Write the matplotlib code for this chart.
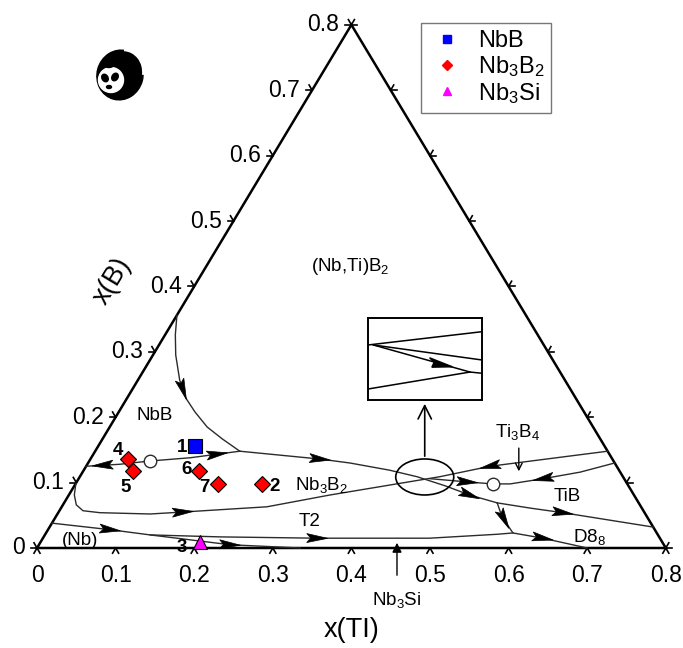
import numpy as np
import matplotlib
matplotlib.use('Agg')
import matplotlib.pyplot as plt
from matplotlib.patches import Ellipse, Polygon, Circle, Arc
from matplotlib.lines import Line2D

plt.rcParams['font.family'] = ['Liberation Sans', 'DejaVu Sans']
plt.rcParams['mathtext.default'] = 'regular'

# ---- data (compositions: x(Ti), x(B)) ----
tick_values = [0, 0.1, 0.2, 0.3, 0.4, 0.5, 0.6, 0.7, 0.8]

# monovariant lines
curve_A_ti = [0.000, 0.013, 0.029, 0.053, 0.075, 0.097, 0.124, 0.152, 0.184]
curve_A_b = [0.356, 0.326, 0.295, 0.257, 0.229, 0.208, 0.185, 0.167, 0.148]
curve_B_ti = [0.000, 0.041, 0.077, 0.126, 0.184]
curve_B_b = [0.125, 0.128, 0.133, 0.138, 0.148]
curve_C_ti = [0.184, 0.238, 0.292, 0.333, 0.389, 0.429, 0.472, 0.510, 0.551]
curve_C_b = [0.148, 0.142, 0.136, 0.130, 0.119, 0.109, 0.095, 0.081, 0.069]
curve_D_ti = [0.551, 0.597, 0.642, 0.768]
curve_D_b = [0.069, 0.061, 0.054, 0.032]
curve_E_ti = [0.551, 0.562, 0.576, 0.594, 0.636, 0.700]
curve_E_b = [0.069, 0.055, 0.040, 0.023, 0.015, 0.000]
curve_F_ti = [0.134, 0.224, 0.349, 0.492, 0.575, 0.594]
curve_F_b = [0.020, 0.017, 0.015, 0.015, 0.021, 0.023]
curve_G_ti = [0.000, 0.079, 0.134, 0.243, 0.335]
curve_G_b = [0.038, 0.028, 0.020, 0.005, 0.000]
curve_H_ti = [0.000, 0.007, 0.017, 0.030, 0.053, 0.118, 0.158, 0.261, 0.332, 0.458, 0.514, 0.652]
curve_H_b = [0.099, 0.081, 0.066, 0.057, 0.054, 0.052, 0.055, 0.063, 0.081, 0.109, 0.125, 0.148]
curve_I_ti = [0.670, 0.633, 0.591, 0.553, 0.531, 0.497, 0.447]
curve_I_b = [0.130, 0.116, 0.106, 0.098, 0.098, 0.101, 0.106]

curves = {
    'A': (curve_A_ti, curve_A_b), 'B': (curve_B_ti, curve_B_b),
    'C': (curve_C_ti, curve_C_b), 'D': (curve_D_ti, curve_D_b),
    'E': (curve_E_ti, curve_E_b), 'F': (curve_F_ti, curve_F_b),
    'G': (curve_G_ti, curve_G_b), 'H': (curve_H_ti, curve_H_b),
    'I': (curve_I_ti, curve_I_b),
}

# arrows on lines: curve, x(Ti), x(B), direction along the curve
arrow_marks = [
    ('A', 0.064, 0.242, 1), ('B', 0.021, 0.125, -1), ('B', 0.159, 0.141, 1),
    ('C', 0.292, 0.136, 1), ('C', 0.510, 0.081, 1), ('D', 0.642, 0.054, 1),
    ('E', 0.571, 0.043, 1), ('E', 0.636, 0.015, 1), ('F', 0.349, 0.015, 1),
    ('G', 0.079, 0.028, 1), ('G', 0.243, 0.005, 1), ('H', 0.158, 0.055, 1),
    ('H', 0.514, 0.125, -1), ('I', 0.591, 0.106, 1), ('I', 0.497, 0.101, -1),
]

# saddle points (open circles)
saddle_ti = [0.077, 0.531]
saddle_b = [0.133, 0.098]

# alloys
nbb_ti, nbb_b, nbb_ids = [0.123], [0.156], ['1']
nb3b2_ti = [0.048, 0.063, 0.147, 0.181, 0.237]
nb3b2_b = [0.136, 0.118, 0.118, 0.098, 0.098]
nb3b2_ids = ['4', '5', '6', '7', '2']
nb3si_ti, nb3si_b, nb3si_ids = [0.203], [0.009], ['3']

# phase field labels
field_names = ['(Nb,Ti)B$_2$', 'NbB', 'Nb$_3$B$_2$', 'T2', '(Nb)', 'TiB', 'D8$_8$', 'Ti$_3$B$_4$']
field_ti = [0.183, 0.048, 0.314, 0.327, 0.049, 0.635, 0.694, 0.523]
field_b = [0.431, 0.203, 0.096, 0.040, 0.012, 0.078, 0.017, 0.177]

# ---- layout ----
W, H = 683, 648
X0, Y0 = 37, 548          # pixel of the Nb corner
SX, SY = 786, 654          # pixels per unit
fig = plt.figure(figsize=(W / 100, H / 100), dpi=100)
ax = fig.add_axes([0, 0, 1, 1])
ax.set_xlim(-X0 / SX, (W - X0) / SX)
ax.set_ylim(-(H - Y0) / SY, Y0 / SY)
ax.axis('off')


def tern(ti, b):
    ti = np.asarray(ti, float)
    b = np.asarray(b, float)
    return ti + 0.5 * b, b


lc = '#2b2b2b'
# triangle
tx, ty = tern([0, 0.8, 0, 0], [0, 0, 0.8, 0])
ax.plot(tx, ty, color='k', lw=1.8, solid_joinstyle='miter', zorder=3)

# ticks
leg = 6
edges = [
    ('bottom', lambda v: (v, 0), (240, 300)),
    ('left', lambda v: (0, v), (120, 180)),
    ('right', lambda v: (0.8 - v, v), (0, 60)),
]
for name, pos, angs in edges:
    for v in tick_values:
        X, Y = tern(*pos(v))
        for a in angs:
            dx = leg * np.cos(np.radians(a)) / SX
            dy = leg * np.sin(np.radians(a)) / SY
            ax.plot([X, X + dx], [Y, Y + dy], color='k', lw=1.2, zorder=3)
        lab = '0' if v == 0 else f'{v:.1f}'
        if name == 'bottom':
            ax.annotate(lab, (X, Y), xytext=(0, -16), textcoords='offset pixels',
                        ha='center', va='top', fontsize=16.5)
        elif name == 'left':
            ax.annotate(lab, (X, Y), xytext=(-12, 0), textcoords='offset pixels',
                        ha='right', va='center', fontsize=16.5)

ax.text(352 / 683, 1 - 630 / 648, 'x(TI)', transform=fig.transFigure,
        ha='center', va='center', fontsize=19.5)
ax.text(112 / 683, 1 - 281 / 648, 'x(B)', transform=fig.transFigure,
        ha='center', va='center', fontsize=19.5, rotation=59)

# lines
for key, (cti, cb) in curves.items():
    X, Y = tern(cti, cb)
    ax.plot(X, Y, color=lc, lw=1.0, zorder=4)

# arrow heads
L, hw = 21, 4.5
for key, ati, ab, sgn in arrow_marks:
    X, Y = tern(*curves[key])
    P = np.c_[X * SX, Y * SY]
    ax_, ay_ = tern(ati, ab)
    A = np.array([ax_ * SX, ay_ * SY])
    best, bd, bdir = None, 1e9, None
    for i in range(len(P) - 1):
        s = P[i + 1] - P[i]
        t = np.clip(np.dot(A - P[i], s) / np.dot(s, s), 0, 1)
        q = P[i] + t * s
        d = np.linalg.norm(A - q)
        if d < bd:
            bd, best, bdir = d, q, s / np.linalg.norm(s)
    d = bdir * sgn
    n = np.array([-d[1], d[0]])
    tip = best + d * L / 2
    base = best - d * L / 2
    poly = np.array([tip, base + n * hw, base + d * 4, base - n * hw])
    poly = poly / [SX, SY]
    ax.add_patch(Polygon(poly, closed=True, facecolor='k', edgecolor='k', lw=0.5, zorder=5))

# saddle points
sx_, sy_ = tern(saddle_ti, saddle_b)
ax.plot(sx_, sy_, 'o', ms=9, mfc='white', mec=lc, mew=1.0, ls='none', zorder=6)

# field labels
for name, fti, fb in zip(field_names, field_ti, field_b):
    X, Y = tern(fti, fb)
    ax.text(X, Y, name, ha='center', va='center', fontsize=13.5, zorder=7)

# Ti3B4 pointer (vertical)
tb_x = 0.613
ax.annotate('', xy=(tb_x, 0.113), xytext=(tb_x, 0.157),
            arrowprops=dict(arrowstyle='->', color='k', lw=1.0, mutation_scale=12), zorder=7)

# Nb3Si pointer on the x(Ti) axis
nx = 0.458
ax.annotate('', xy=(nx, 8 / SY), xytext=(nx, -30 / SY),
            arrowprops=dict(arrowstyle='-|>', color='k', lw=1.0, mutation_scale=14), zorder=7)
ax.text(nx, -52 / SY, 'Nb$_3$Si', ha='center', va='center', fontsize=13.5)

# circled region and zoom box
ec, eb = tern(0.439, 0.1086)
ax.add_patch(Ellipse((ec, eb), 58 / SX, 36 / SY, fill=False, color='k', lw=1.2, zorder=6))
ax.annotate('', xy=(ec, (Y0 - 401) / SY), xytext=(ec, eb + 18 / SY),
            arrowprops=dict(arrowstyle='->', color='k', lw=1.2, mutation_scale=24), zorder=7)

ins = fig.add_axes([368 / W, 1 - 400 / H, 114 / W, 82 / H])
ins.set_xlim(0, 1)
ins.set_ylim(0, 1)
ins.set_xticks([])
ins.set_yticks([])
for s in ins.spines.values():
    s.set_linewidth(1.4)
ins.plot([0, 1], [0.671, 0.833], color='k', lw=1.1)
ins.plot([0.047, 1], [0.671, 0.488], color='k', lw=1.1)
ins.plot([0.047, 0.895, 1], [0.671, 0.341, 0.326], color='k', lw=1.1)
ins.plot([0, 0.895], [0.134, 0.341], color='k', lw=1.1)
ins.add_patch(Polygon([[0.74, 0.405], [0.54, 0.515], [0.58, 0.46], [0.56, 0.40]],
                      closed=True, facecolor='k', edgecolor='k'))

# alloys
X, Y = tern(nbb_ti, nbb_b)
ax.plot(X, Y, 's', ms=10, mfc='#0000ff', mec='k', mew=0.8, ls='none', zorder=8)
X, Y = tern(nb3b2_ti, nb3b2_b)
ax.plot(X, Y, 'D', ms=8, mfc='#ff0000', mec='k', mew=0.8, ls='none', zorder=8)
X, Y = tern(nb3si_ti, nb3si_b)
ax.plot(X, Y, '^', ms=10, mfc='#ff00ff', mec='k', mew=0.8, ls='none', zorder=8)

label_offsets = {'1': (-13, -2), '4': (-10, 9), '5': (-7, -17), '6': (-12, 1),
                 '7': (-13, -4), '2': (13, -3), '3': (-18, -5)}
for ids, tis, bs in [(nbb_ids, nbb_ti, nbb_b), (nb3b2_ids, nb3b2_ti, nb3b2_b),
                     (nb3si_ids, nb3si_ti, nb3si_b)]:
    for i, ti, b in zip(ids, tis, bs):
        X, Y = tern(ti, b)
        ax.annotate(i, (X, Y), xytext=label_offsets[i], textcoords='offset pixels',
                    ha='center', va='center', fontsize=13.5, fontweight='bold', zorder=9)

handles = [
    Line2D([], [], marker='s', ls='none', color='#0000ff', ms=6),
    Line2D([], [], marker='D', ls='none', color='#ff0000', ms=5),
    Line2D([], [], marker='^', ls='none', color='#ff00ff', ms=6),
]
leg_ = ax.legend(handles, ['NbB', 'Nb$_3$B$_2$', 'Nb$_3$Si'], loc='upper left',
                 bbox_to_anchor=(421 / W, 1 - 23 / H), bbox_transform=fig.transFigure,
                 borderaxespad=0, fancybox=False, fontsize=17, handlelength=1.6,
                 handletextpad=0.5, labelspacing=0.08, borderpad=0.3)
leg_.get_frame().set_edgecolor('#555555')
leg_.get_frame().set_linewidth(1.0)

# panda logo
pa = fig.add_axes([93 / W, 1 - 102 / H, 52 / W, 54 / H])
pa.set_xlim(0, 52)
pa.set_ylim(0, 54)
pa.set_aspect('equal')
pa.axis('off')
pa.add_patch(Ellipse((27, 27), 46, 50, angle=-15, color='k'))
pa.add_patch(Arc((29, 29), 42, 46, angle=-15, theta1=10, theta2=100, color='white', lw=1.5))
pa.add_patch(Circle((18, 22), 12.5, color='white'))
pa.add_patch(Ellipse((12, 24), 6, 8, angle=30, color='k'))
pa.add_patch(Ellipse((22, 25), 6, 8, angle=-30, color='k'))
pa.add_patch(Ellipse((16, 37), 9, 5, color='k'))
pa.add_patch(Ellipse((16, 15), 5, 3, color='k'))

fig.savefig('out.png', dpi=100)
